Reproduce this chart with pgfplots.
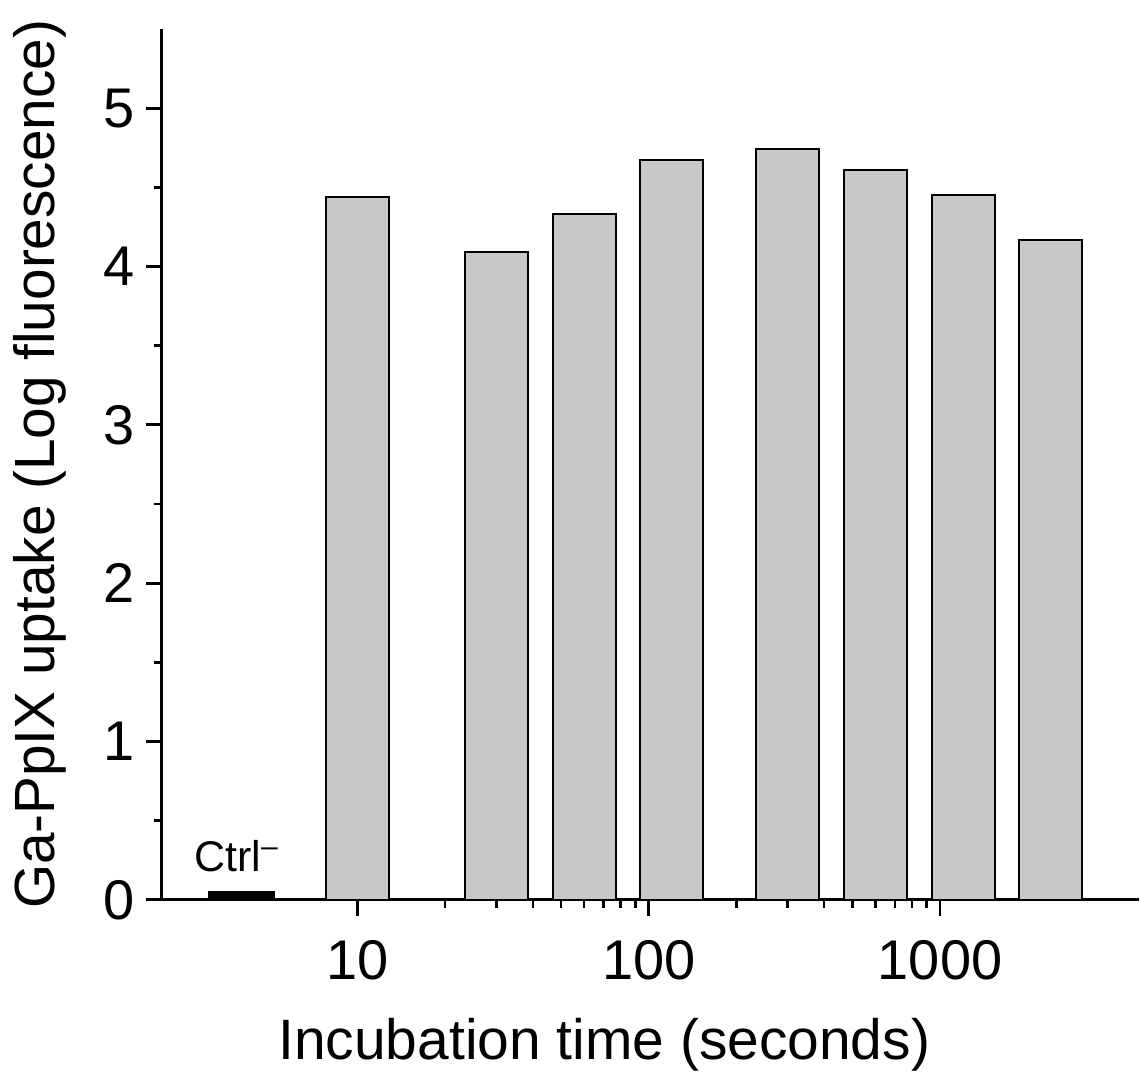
\documentclass[border=0pt]{standalone}
\usepackage{fontspec}
\setmainfont{Liberation Sans}
\usepackage{pgfplots}
\pgfplotsset{compat=1.18}
\definecolor{barfill}{RGB}{200,200,200}
\begin{document}
\begin{tikzpicture}
\begin{axis}[
  scale only axis, width=489pt, height=436pt,
  xmode=log, xmin=2.13, xmax=4800, ymin=0, ymax=5.5,
  axis x line=bottom, axis y line=left,
  axis line style={line width=1.5pt,-},
  xtick={10,100,1000}, xticklabels={10,100,1000},
  ytick={0,1,2,3,4,5}, minor y tick num=1,
  major tick length=8pt, minor tick length=4pt,
  xtick align=outside, ytick align=outside,
  major tick style={line width=1.4pt, black},
  minor tick style={line width=1.3pt, black},
  ticklabel style={font=\fontsize{28}{34}\selectfont},
  /pgf/number format/assume math mode=true,
  yticklabel style={xshift=-2pt},
  xticklabel style={yshift=-9pt},
  xlabel={Incubation time (seconds)},
  ylabel={Ga-PpIX uptake (Log fluorescence)},
  xlabel style={font=\fontsize{28.5}{34}\selectfont, at={(axis description cs:0.453,0)}, anchor=base, yshift=-80pt},
  ylabel style={font=\fontsize{28.4}{34}\selectfont, at={(axis description cs:-0.1094,0.5)}, anchor=base},
  clip=false,
]
\addplot[ybar, bar width=33pt, bar shift=0pt, fill=black, draw=black, line width=0.5pt] coordinates {(4,0.055)};
\addplot[ybar, bar width=31.5pt, bar shift=0pt, fill=barfill, draw=black, line width=1pt] coordinates {
(10,4.44) (30,4.09) (60,4.33) (120,4.675) (300,4.745) (600,4.61) (1200,4.45) (2400,4.17)};
\node[font=\fontsize{21.5}{26}\selectfont, anchor=base] at (axis cs:3.85,0.18) {Ctrl\textsuperscript{–}};
\draw[line width=1.5pt] (axis cs:2.13,0) -- ++(-7.5pt,0);
\end{axis}
\path ([xshift=-81pt,yshift=-85.5pt]current axis.south west) rectangle ([yshift=14.5pt]current axis.north east);
\end{tikzpicture}
\end{document}
